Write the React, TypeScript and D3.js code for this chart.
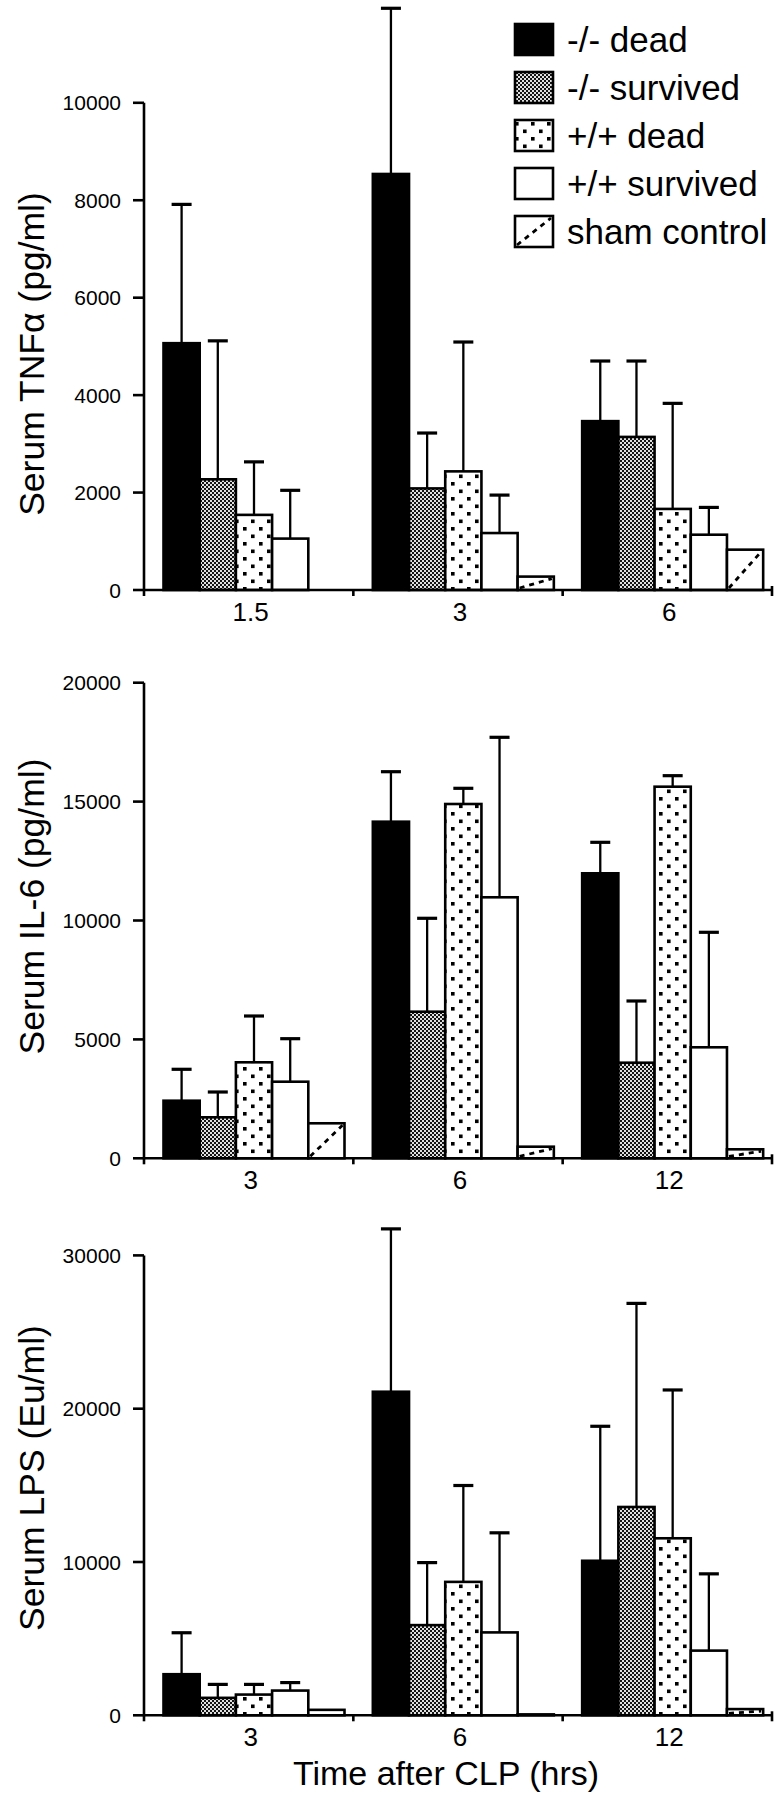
import React from "react";
import * as d3 from "d3";

// ---------- data ----------
const SERIES = ["-/- dead", "-/- survived", "+/+ dead", "+/+ survived", "sham control"];

const TNF_TIMES = ["1.5", "3", "6"];
const TNF_MEAN: (number | null)[][] = [
  [5066, 2272, 1542, 1055, null],
  [8539, 2085, 2435, 1169, 275],
  [3466, 3142, 1664, 1135, 828],
];
const TNF_UPPER: (number | null)[][] = [
  [7915, 5114, 2630, 2046, null],
  [11940, 3222, 5090, 1948, null],
  [4700, 4700, 3831, 1695, null],
];
const TNF_TICKS = [0, 2000, 4000, 6000, 8000, 10000];

const IL6_TIMES = ["3", "6", "12"];
const IL6_MEAN: (number | null)[][] = [
  [2422, 1724, 4037, 3221, 1472],
  [14155, 6165, 14899, 10976, 488],
  [11985, 4020, 15627, 4668, 378],
];
const IL6_UPPER: (number | null)[][] = [
  [3743, 2788, 5984, 5030, null],
  [16257, 10093, 15559, 17704, null],
  [13288, 6615, 16090, 9504, null],
];
const IL6_TICKS = [0, 5000, 10000, 15000, 20000];

const LPS_TIMES = ["3", "6", "12"];
const LPS_MEAN: (number | null)[][] = [
  [2680, 1138, 1352, 1613, 356],
  [21107, 5883, 8703, 5407, 60],
  [10080, 13589, 11547, 4219, 405],
];
const LPS_UPPER: (number | null)[][] = [
  [5385, 2016, 2016, 2134, null],
  [31730, 9960, 14990, 11904, null],
  [18853, 26870, 21222, 9227, null],
];
const LPS_TICKS = [0, 10000, 20000, 30000];

// ---------- styling ----------
const FONT = "'Liberation Sans', Arial, Helvetica, sans-serif";
const FILLS = ["#000", "url(#gray)", "url(#dots)", "#fff", "#fff"];
const X_LEFT = 144;
const X_RIGHT = 772;

type PanelProps = {
  top: number;
  bottom: number;
  ticks: number[];
  times: string[];
  mean: (number | null)[][];
  upper: (number | null)[][];
  label: string;
  labelY: number;
};

function Panel({ top, bottom, ticks, times, mean, upper, label, labelY }: PanelProps) {
  const max = ticks[ticks.length - 1];
  const y = d3.scaleLinear().domain([0, max]).range([bottom, top]);
  const x0 = d3.scaleBand<string>().domain(times).range([X_LEFT, X_RIGHT]).padding(0);
  const x1 = d3.scaleBand<string>().domain(SERIES).range([19.5, 200.5]).padding(0);
  const bw = x1.bandwidth();
  const boundaries = [X_LEFT, ...times.map((t) => (x0(t) as number) + x0.bandwidth())];

  return (
    <g>
      {/* bars */}
      {times.map((t, gi) =>
        SERIES.map((s, si) => {
          const v = mean[gi][si];
          if (v == null) return null;
          const bx = (x0(t) as number) + (x1(s) as number);
          const by = y(v);
          return (
            <g key={`b-${gi}-${si}`}>
              <rect
                x={bx}
                y={by}
                width={bw}
                height={bottom - by}
                fill={FILLS[si]}
                stroke="#000"
                strokeWidth={2.6}
              />
              {si === 4 && bottom - by > 6 ? (
                <line
                  x1={bx + 2}
                  y1={bottom - 2}
                  x2={bx + bw - 2}
                  y2={by + 2}
                  stroke="#000"
                  strokeWidth={2.8}
                  strokeDasharray="5,5"
                />
              ) : null}
            </g>
          );
        })
      )}
      {/* error bars */}
      {times.map((t, gi) =>
        SERIES.map((s, si) => {
          const v = mean[gi][si];
          const u = upper[gi][si];
          if (v == null || u == null) return null;
          const cx = (x0(t) as number) + (x1(s) as number) + bw / 2;
          return (
            <g key={`e-${gi}-${si}`}>
              <line x1={cx} x2={cx} y1={y(v)} y2={y(u)} stroke="#000" strokeWidth={2.3} />
              <line x1={cx - 10} x2={cx + 10} y1={y(u)} y2={y(u)} stroke="#000" strokeWidth={3.2} />
            </g>
          );
        })
      )}
      {/* y axis */}
      <line x1={X_LEFT} x2={X_LEFT} y1={bottom + 1} y2={top} stroke="#000" strokeWidth={2.6} />
      {ticks.map((tk) => (
        <g key={`yt-${tk}`}>
          <line x1={X_LEFT - 11} x2={X_LEFT} y1={y(tk)} y2={y(tk)} stroke="#000" strokeWidth={2.6} />
          <text
            x={121}
            y={y(tk)}
            dy="0.36em"
            textAnchor="end"
            fontSize={21}
            fontFamily={FONT}
          >
            {tk}
          </text>
        </g>
      ))}
      {/* x axis */}
      <line x1={X_LEFT} x2={X_RIGHT + 1} y1={bottom} y2={bottom} stroke="#000" strokeWidth={2.6} />
      {boundaries.map((bx, i) => (
        <line
          key={`xt-${i}`}
          x1={bx}
          x2={bx}
          y1={bottom - (i === boundaries.length - 1 ? 4 : 0)}
          y2={bottom + 6}
          stroke="#000"
          strokeWidth={2.6}
        />
      ))}
      {times.map((t) => (
        <text
          key={`xl-${t}`}
          x={(x0(t) as number) + x0.bandwidth() / 2 + 2}
          y={bottom + 30.5}
          textAnchor="middle"
          fontSize={26}
          fontFamily={FONT}
        >
          {t}
        </text>
      ))}
      {/* y label */}
      <text
        transform={`translate(44, ${labelY}) rotate(-90)`}
        textAnchor="middle"
        fontSize={35.5}
        fontFamily={FONT}
      >
        {label}
      </text>
    </g>
  );
}

function Legend() {
  const x = 515;
  const top = 24;
  const step = 48;
  const w = 38;
  const h = 31;
  return (
    <g>
      {SERIES.map((s, i) => {
        const y0 = top + i * step;
        return (
          <g key={`lg-${i}`}>
            <rect x={x} y={y0} width={w} height={h} fill={FILLS[i]} stroke="#000" strokeWidth={2.6} />
            {i === 4 ? (
              <line
                x1={x + 2}
                y1={y0 + h - 2}
                x2={x + w - 2}
                y2={y0 + 2}
                stroke="#000"
                strokeWidth={2.8}
                strokeDasharray="5,5"
              />
            ) : null}
            <text x={567} y={y0 + h / 2 + 12.5} fontSize={35} fontFamily={FONT}>
              {s}
            </text>
          </g>
        );
      })}
    </g>
  );
}

export default function App() {
  return (
    <svg
      width={783}
      height={1800}
      viewBox="0 0 783 1800"
      style={{ position: "absolute", left: 0, top: 0, background: "#fff" }}
    >
      <defs>
        <pattern id="gray" width={4} height={4} patternUnits="userSpaceOnUse">
          <rect width={4} height={4} fill="#e0e0e0" />
          <rect x={0} y={0} width={2} height={2} fill="#141414" />
          <rect x={2} y={2} width={2} height={2} fill="#141414" />
        </pattern>
        <pattern id="dots" width={16} height={15} patternUnits="userSpaceOnUse">
          <rect width={16} height={15} fill="#fff" />
          <rect x={3} y={2} width={3.6} height={3.6} fill="#000" />
          <rect x={11} y={9.5} width={3.6} height={3.6} fill="#000" />
        </pattern>
      </defs>
      <rect width={783} height={1800} fill="#fff" />
      <Panel
        top={102.8}
        bottom={590}
        ticks={TNF_TICKS}
        times={TNF_TIMES}
        mean={TNF_MEAN}
        upper={TNF_UPPER}
        label="Serum TNFα (pg/ml)"
        labelY={354}
      />
      <Panel
        top={682.7}
        bottom={1158.3}
        ticks={IL6_TICKS}
        times={IL6_TIMES}
        mean={IL6_MEAN}
        upper={IL6_UPPER}
        label="Serum IL-6 (pg/ml)"
        labelY={906.5}
      />
      <Panel
        top={1255.4}
        bottom={1715.3}
        ticks={LPS_TICKS}
        times={LPS_TIMES}
        mean={LPS_MEAN}
        upper={LPS_UPPER}
        label="Serum LPS (Eu/ml)"
        labelY={1478}
      />
      <Legend />
      <text x={446} y={1785} textAnchor="middle" fontSize={34} fontFamily={FONT}>
        Time after CLP (hrs)
      </text>
    </svg>
  );
}
